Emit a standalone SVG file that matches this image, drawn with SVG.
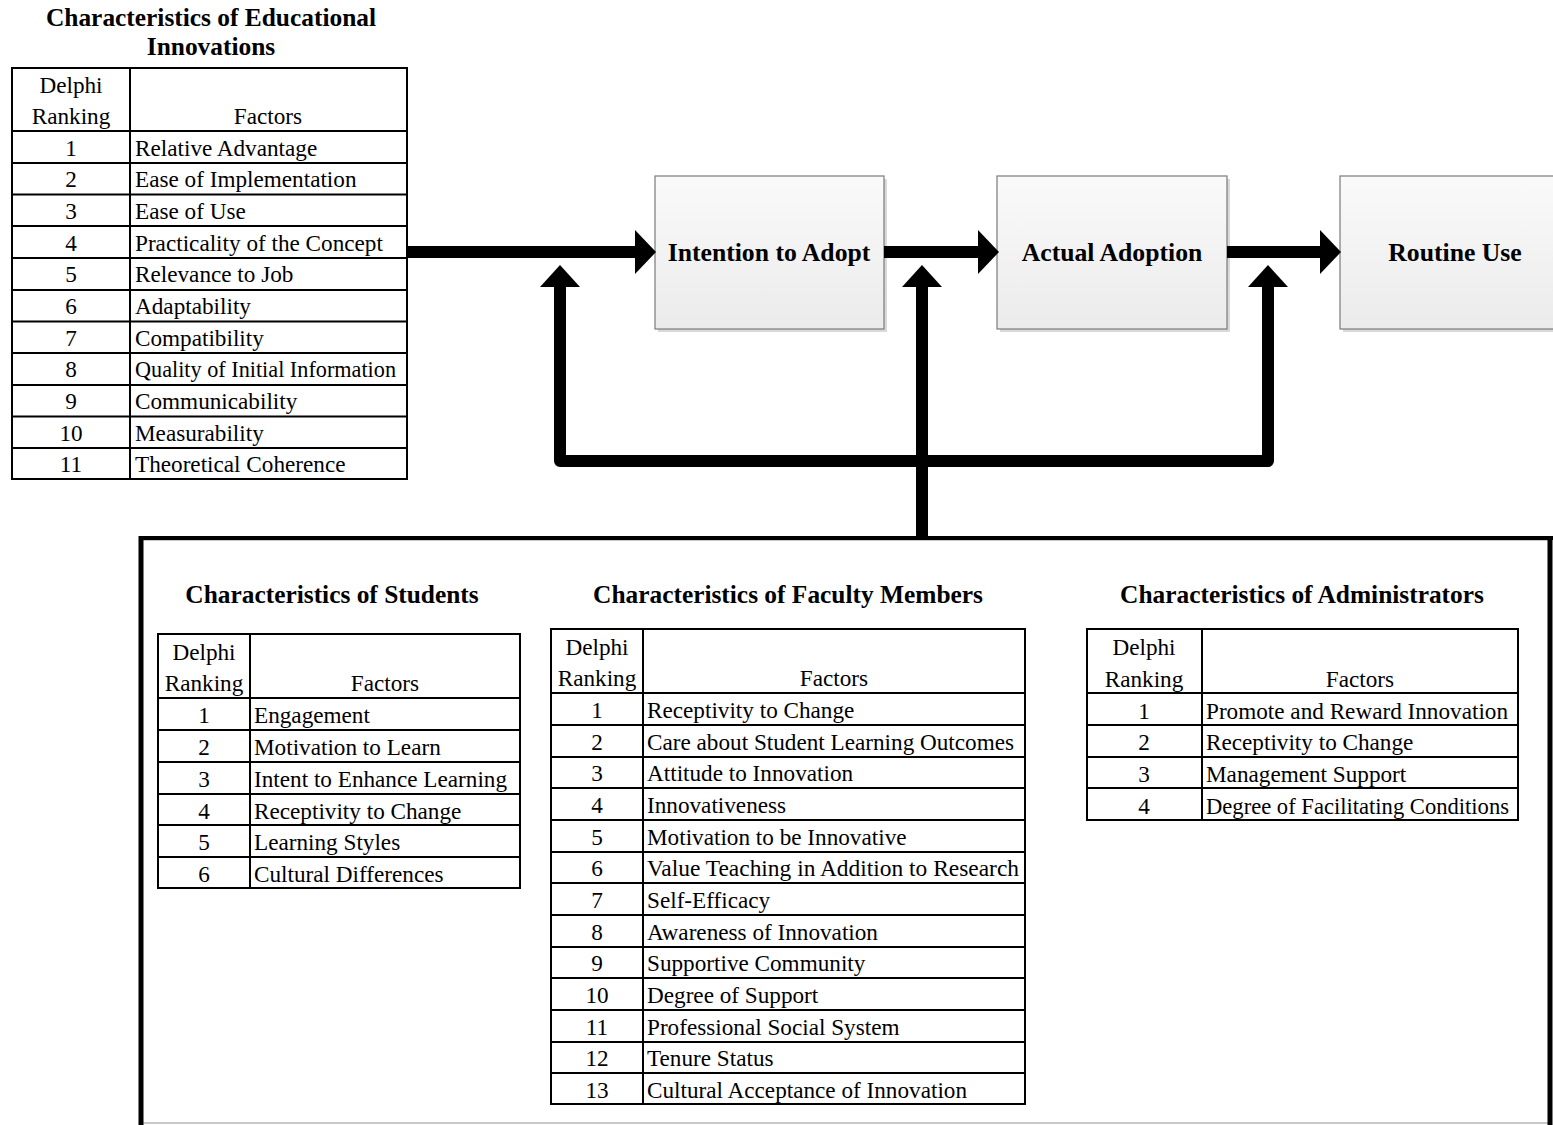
<svg xmlns="http://www.w3.org/2000/svg" width="1553" height="1125" viewBox="0 0 1553 1125">
  <defs>
    <linearGradient id="boxFill" x1="0" y1="0" x2="0" y2="1">
      <stop offset="0" stop-color="#fafafa"/>
      <stop offset="1" stop-color="#ebebeb"/>
    </linearGradient>
    <style>
      .title { font-family: "Liberation Serif", "Times New Roman", serif; font-weight: bold; font-size: 25.4px; fill: #000; }
      .boxlabel { font-family: "Liberation Serif", "Times New Roman", serif; font-weight: bold; font-size: 25.7px; fill: #000; text-anchor: middle; }
      .cell { font-family: "Liberation Serif", "Times New Roman", serif; font-size: 23.2px; fill: #000; }
      .mid { text-anchor: middle; }
      .grid { fill: none; stroke: #000; stroke-width: 2; }
      .box { fill: url(#boxFill); stroke: #7a7a7a; stroke-width: 1.2; }
      .shadow { fill: #d9d9d9; }
      .conn { fill: none; stroke: #000; stroke-width: 12; stroke-linejoin: round; }
      .head { fill: #000; }
    </style>
  </defs>
  <rect width="1553" height="1125" fill="#fff"/>

  <!-- Innovation characteristics table -->
  <g id="innovations">
    <text class="title" x="211" y="26" text-anchor="middle">Characteristics of Educational</text>
    <text class="title" x="211" y="55" text-anchor="middle">Innovations</text>
    <rect class="grid" x="12" y="68" width="395" height="411"/>
    <line class="grid" x1="130" y1="68" x2="130" y2="479"/>
    <g class="grid">
      <line x1="12" y1="131" x2="407" y2="131"/>
      <line x1="12" y1="163" x2="407" y2="163"/>
      <line x1="12" y1="194.5" x2="407" y2="194.5"/>
      <line x1="12" y1="226" x2="407" y2="226"/>
      <line x1="12" y1="258" x2="407" y2="258"/>
      <line x1="12" y1="290" x2="407" y2="290"/>
      <line x1="12" y1="321.5" x2="407" y2="321.5"/>
      <line x1="12" y1="353" x2="407" y2="353"/>
      <line x1="12" y1="385" x2="407" y2="385"/>
      <line x1="12" y1="416.5" x2="407" y2="416.5"/>
      <line x1="12" y1="448" x2="407" y2="448"/>
    </g>
    <text class="cell mid" x="71" y="93">Delphi</text>
    <text class="cell mid" x="71" y="124">Ranking</text>
    <text class="cell mid" x="268" y="124">Factors</text>
    <g class="cell">
      <text class="mid" x="71" y="156">1</text><text x="135" y="156">Relative Advantage</text>
      <text class="mid" x="71" y="187">2</text><text x="135" y="187">Ease of Implementation</text>
      <text class="mid" x="71" y="219">3</text><text x="135" y="219">Ease of Use</text>
      <text class="mid" x="71" y="251">4</text><text x="135" y="251">Practicality of the Concept</text>
      <text class="mid" x="71" y="282">5</text><text x="135" y="282">Relevance to Job</text>
      <text class="mid" x="71" y="314">6</text><text x="135" y="314">Adaptability</text>
      <text class="mid" x="71" y="346">7</text><text x="135" y="346">Compatibility</text>
      <text class="mid" x="71" y="377">8</text><text x="135" y="377" textLength="261" lengthAdjust="spacingAndGlyphs">Quality of Initial Information</text>
      <text class="mid" x="71" y="409">9</text><text x="135" y="409">Communicability</text>
      <text class="mid" x="71" y="441">10</text><text x="135" y="441">Measurability</text>
      <text class="mid" x="71" y="472">11</text><text x="135" y="472">Theoretical Coherence</text>
    </g>
  </g>

  <!-- Process stages -->
  <g id="intention">
    <rect class="shadow" x="658" y="179" width="229" height="153"/>
    <rect class="box" x="655" y="176" width="229" height="153"/>
    <text class="boxlabel" x="769" y="261">Intention to Adopt</text>
  </g>
  <g id="adoption">
    <rect class="shadow" x="1000" y="179" width="230" height="153"/>
    <rect class="box" x="997" y="176" width="230" height="153"/>
    <text class="boxlabel" x="1112" y="261">Actual Adoption</text>
  </g>
  <g id="routine">
    <rect class="shadow" x="1343" y="179" width="230" height="153"/>
    <rect class="box" x="1340" y="176" width="230" height="153"/>
    <text class="boxlabel" x="1455" y="261">Routine Use</text>
  </g>

  <!-- Connectors -->
  <g id="connectors">
    <line class="conn" x1="407" y1="252" x2="637" y2="252"/>
    <polygon class="head" points="635,230 656,252 635,274"/>
    <line class="conn" x1="884" y1="252" x2="980" y2="252"/>
    <polygon class="head" points="978,230 999,252 978,274"/>
    <line class="conn" x1="1227" y1="252" x2="1322" y2="252"/>
    <polygon class="head" points="1320,230 1341,252 1320,274"/>

    <path class="conn" d="M560,284 V461 H1268 V284"/>
    <line class="conn" x1="922" y1="284" x2="922" y2="538" stroke-linejoin="miter"/>
    <polygon class="head" points="540,287 560,265 580,287"/>
    <polygon class="head" points="902,287 922,265 942,287"/>
    <polygon class="head" points="1248,287 1268,265 1288,287"/>
  </g>

  <!-- Stakeholder frame -->
  <g id="stakeholders">
    <rect x="141" y="540" width="1410" height="583" fill="none" stroke="#c8c8c8" stroke-width="2"/>
    <line x1="139" y1="538" x2="1553" y2="538" stroke="#000" stroke-width="4"/>
    <line x1="141" y1="536" x2="141" y2="1125" stroke="#000" stroke-width="5"/>
    <line x1="1550" y1="536" x2="1550" y2="1125" stroke="#000" stroke-width="5"/>
  </g>

  <!-- Students -->
  <g id="students">
    <text class="title" x="332" y="603" text-anchor="middle">Characteristics of Students</text>
    <rect class="grid" x="158" y="634" width="362" height="254"/>
    <line class="grid" x1="250" y1="634" x2="250" y2="888"/>
    <g class="grid">
      <line x1="158" y1="698" x2="520" y2="698"/>
      <line x1="158" y1="730" x2="520" y2="730"/>
      <line x1="158" y1="762" x2="520" y2="762"/>
      <line x1="158" y1="794" x2="520" y2="794"/>
      <line x1="158" y1="825" x2="520" y2="825"/>
      <line x1="158" y1="857" x2="520" y2="857"/>
    </g>
    <text class="cell mid" x="204" y="660">Delphi</text>
    <text class="cell mid" x="204" y="691">Ranking</text>
    <text class="cell mid" x="385" y="691">Factors</text>
    <g class="cell">
      <text class="mid" x="204" y="723">1</text><text x="254" y="723">Engagement</text>
      <text class="mid" x="204" y="755">2</text><text x="254" y="755">Motivation to Learn</text>
      <text class="mid" x="204" y="787">3</text><text x="254" y="787">Intent to Enhance Learning</text>
      <text class="mid" x="204" y="819">4</text><text x="254" y="819">Receptivity to Change</text>
      <text class="mid" x="204" y="850">5</text><text x="254" y="850">Learning Styles</text>
      <text class="mid" x="204" y="882">6</text><text x="254" y="882">Cultural Differences</text>
    </g>
  </g>

  <!-- Faculty members -->
  <g id="faculty">
    <text class="title" x="788" y="603" text-anchor="middle">Characteristics of Faculty Members</text>
    <rect class="grid" x="551" y="629" width="474" height="475"/>
    <line class="grid" x1="643" y1="629" x2="643" y2="1104"/>
    <g class="grid">
      <line x1="551" y1="693" x2="1025" y2="693"/>
      <line x1="551" y1="725" x2="1025" y2="725"/>
      <line x1="551" y1="757" x2="1025" y2="757"/>
      <line x1="551" y1="788" x2="1025" y2="788"/>
      <line x1="551" y1="820" x2="1025" y2="820"/>
      <line x1="551" y1="852" x2="1025" y2="852"/>
      <line x1="551" y1="883" x2="1025" y2="883"/>
      <line x1="551" y1="915" x2="1025" y2="915"/>
      <line x1="551" y1="947" x2="1025" y2="947"/>
      <line x1="551" y1="978" x2="1025" y2="978"/>
      <line x1="551" y1="1010" x2="1025" y2="1010"/>
      <line x1="551" y1="1042" x2="1025" y2="1042"/>
      <line x1="551" y1="1073" x2="1025" y2="1073"/>
    </g>
    <text class="cell mid" x="597" y="655">Delphi</text>
    <text class="cell mid" x="597" y="686">Ranking</text>
    <text class="cell mid" x="834" y="686">Factors</text>
    <g class="cell">
      <text class="mid" x="597" y="718">1</text><text x="647" y="718">Receptivity to Change</text>
      <text class="mid" x="597" y="750">2</text><text x="647" y="750">Care about Student Learning Outcomes</text>
      <text class="mid" x="597" y="781">3</text><text x="647" y="781">Attitude to Innovation</text>
      <text class="mid" x="597" y="813">4</text><text x="647" y="813">Innovativeness</text>
      <text class="mid" x="597" y="845">5</text><text x="647" y="845">Motivation to be Innovative</text>
      <text class="mid" x="597" y="876">6</text><text x="647" y="876" textLength="372" lengthAdjust="spacingAndGlyphs">Value Teaching in Addition to Research</text>
      <text class="mid" x="597" y="908">7</text><text x="647" y="908">Self-Efficacy</text>
      <text class="mid" x="597" y="940">8</text><text x="647" y="940">Awareness of Innovation</text>
      <text class="mid" x="597" y="971">9</text><text x="647" y="971">Supportive Community</text>
      <text class="mid" x="597" y="1003">10</text><text x="647" y="1003">Degree of Support</text>
      <text class="mid" x="597" y="1035">11</text><text x="647" y="1035">Professional Social System</text>
      <text class="mid" x="597" y="1066">12</text><text x="647" y="1066">Tenure Status</text>
      <text class="mid" x="597" y="1098">13</text><text x="647" y="1098">Cultural Acceptance of Innovation</text>
    </g>
  </g>

  <!-- Administrators -->
  <g id="administrators">
    <text class="title" x="1302" y="603" text-anchor="middle">Characteristics of Administrators</text>
    <rect class="grid" x="1087" y="629" width="431" height="191"/>
    <line class="grid" x1="1202" y1="629" x2="1202" y2="820"/>
    <g class="grid">
      <line x1="1087" y1="693" x2="1518" y2="693"/>
      <line x1="1087" y1="725" x2="1518" y2="725"/>
      <line x1="1087" y1="757" x2="1518" y2="757"/>
      <line x1="1087" y1="788" x2="1518" y2="788"/>
    </g>
    <text class="cell mid" x="1144" y="655">Delphi</text>
    <text class="cell mid" x="1144" y="687">Ranking</text>
    <text class="cell mid" x="1360" y="687">Factors</text>
    <g class="cell">
      <text class="mid" x="1144" y="719">1</text><text x="1206" y="719">Promote and Reward Innovation</text>
      <text class="mid" x="1144" y="750">2</text><text x="1206" y="750">Receptivity to Change</text>
      <text class="mid" x="1144" y="782">3</text><text x="1206" y="782">Management Support</text>
      <text class="mid" x="1144" y="814">4</text><text x="1206" y="814" textLength="303" lengthAdjust="spacingAndGlyphs">Degree of Facilitating Conditions</text>
    </g>
  </g>
</svg>
